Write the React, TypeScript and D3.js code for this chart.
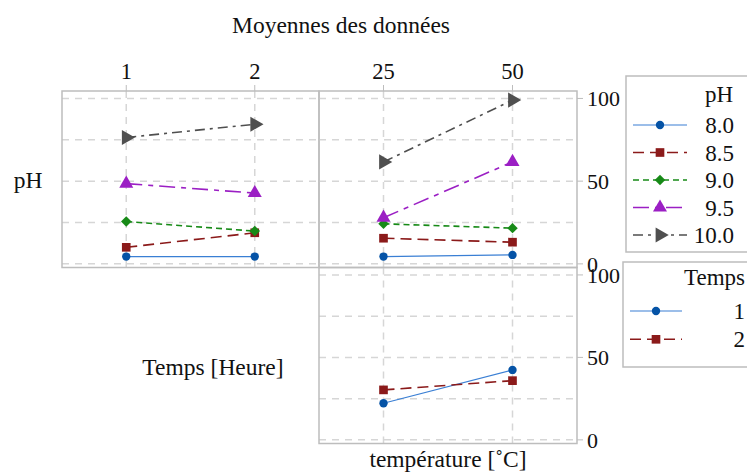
import * as d3 from "d3";

const W = 747;
const H = 476;

// factor levels
const phLevels = ["8.0", "8.5", "9.0", "9.5", "10.0"];
const tempsLevels = [1, 2];
const tempLevels = [25, 50];

// means
const phByTemps = [
  [4.4, 4.4],
  [10.0, 18.8],
  [25.6, 19.8],
  [48.5, 42.8],
  [76.4, 84.4],
];
const phByTemp = [
  [4.4, 5.4],
  [15.5, 13.1],
  [24.2, 21.6],
  [27.9, 61.6],
  [61.6, 99.0],
];
const tempsByTemp = [
  [22.2, 42.4],
  [30.3, 35.9],
];

const yLabels = [0, 50, 100];
const yGrid = [0, 25, 50, 75, 100];

const styles = [
  { line: "#3a7fd4", fill: "#0553a6", dash: "", sym: d3.symbolCircle, size: 55, rot: 0, w: 1.2 },
  { line: "#8b1a1a", fill: "#8b1a1a", dash: "11 6", sym: d3.symbolSquare, size: 75, rot: 0, w: 1.6 },
  { line: "#178a17", fill: "#178a17", dash: "6 4", sym: d3.symbolSquare, size: 55, rot: 45, w: 1.6 },
  { line: "#9b1fc4", fill: "#9b1fc4", dash: "16 6 5 6", sym: d3.symbolTriangle, size: 85, rot: 0, w: 1.6 },
  { line: "#4f4f4f", fill: "#4f4f4f", dash: "10 5 3 5", sym: d3.symbolTriangle, size: 100, rot: 90, w: 1.6 },
];

const FONT = "'Liberation Serif', 'Times New Roman', serif";
const GRID = "#d6d6d6";
const BORDER = "#bdbdbd";

type Panel = {
  key: string;
  x0: number;
  x1: number;
  y0: number;
  y1: number;
  levels: number[];
  series: number[][];
  top: boolean;
  right: boolean;
};

const panels: Panel[] = [
  { key: "tl", x0: 62, x1: 319, y0: 91, y1: 267.5, levels: tempsLevels, series: phByTemps, top: true, right: false },
  { key: "tr", x0: 319, x1: 577, y0: 91, y1: 267.5, levels: tempLevels, series: phByTemp, top: true, right: true },
  { key: "br", x0: 319, x1: 577, y0: 267.5, y1: 443.5, levels: tempLevels, series: tempsByTemp, top: false, right: true },
];

function Marker({ x, y, s }: { x: number; y: number; s: (typeof styles)[number] }) {
  const path = d3.symbol().type(s.sym).size(s.size)() || "";
  return <path d={path} fill={s.fill} transform={`translate(${x},${y}) rotate(${s.rot})`} />;
}

function PanelView({ p }: { p: Panel }) {
  const x = d3.scalePoint<number>().domain(p.levels).range([p.x0, p.x1]).padding(0.5);
  const y = d3.scaleLinear().domain([-2.2, 104.5]).range([p.y1, p.y0]);
  const line = d3
    .line<number>()
    .x((_, i) => x(p.levels[i]) as number)
    .y((v) => y(v));
  return (
    <g>
      {yGrid.map((t) => (
        <line key={"h" + t} x1={p.x0} x2={p.x1} y1={y(t)} y2={y(t)} stroke={GRID} strokeWidth={1.5} strokeDasharray="7 6" />
      ))}
      {p.levels.map((l) => (
        <line key={"v" + l} x1={x(l)} x2={x(l)} y1={p.y0} y2={p.y1} stroke={GRID} strokeWidth={1.5} strokeDasharray="7 6" />
      ))}
      <rect x={p.x0} y={p.y0} width={p.x1 - p.x0} height={p.y1 - p.y0} fill="none" stroke={BORDER} strokeWidth={1.5} />
      {p.top &&
        p.levels.map((l) => (
          <g key={"t" + l}>
            <line x1={x(l)} x2={x(l)} y1={p.y0 - 6} y2={p.y0} stroke={BORDER} strokeWidth={1} />
            <text x={x(l)} y={79} textAnchor="middle" fontSize={22.5}>
              {l}
            </text>
          </g>
        ))}
      {p.right &&
        yLabels.map((t) => (
          <g key={"r" + t}>
            <line x1={p.x1} x2={p.x1 + 6} y1={y(t)} y2={y(t)} stroke={BORDER} strokeWidth={1} />
            <text x={p.x1 + 10} y={y(t)} dy="0.35em" fontSize={22}>
              {t}
            </text>
          </g>
        ))}
      {p.series.map((vals, i) => (
        <path
          key={"l" + i}
          d={line(vals) || ""}
          fill="none"
          stroke={styles[i].line}
          strokeWidth={styles[i].w}
          strokeDasharray={styles[i].dash || undefined}
        />
      ))}
      {p.series.map((vals, i) =>
        vals.map((v, j) => <Marker key={`m${i}-${j}`} x={x(p.levels[j]) as number} y={y(v)} s={styles[i]} />)
      )}
    </g>
  );
}

function Legend({
  x,
  y,
  h,
  title,
  titleX,
  titleY,
  titleAnchor,
  labels,
  rowY,
  lineX0,
  lineX1,
  labelX,
}: {
  x: number;
  y: number;
  h: number;
  title: string;
  titleX: number;
  titleY: number;
  titleAnchor: "start" | "end";
  labels: string[];
  rowY: (i: number) => number;
  lineX0: number;
  lineX1: number;
  labelX: number;
}) {
  return (
    <g>
      <rect x={x} y={y} width={160} height={h} fill="#fff" stroke={BORDER} strokeWidth={1.5} />
      <text x={titleX} y={titleY} textAnchor={titleAnchor} fontSize={23}>
        {title}
      </text>
      {labels.map((lab, i) => (
        <g key={lab}>
          <line
            x1={lineX0}
            x2={lineX1}
            y1={rowY(i)}
            y2={rowY(i)}
            stroke={styles[i].line}
            strokeWidth={styles[i].w}
            strokeDasharray={styles[i].dash || undefined}
          />
          <Marker x={(lineX0 + lineX1) / 2} y={rowY(i)} s={styles[i]} />
          <text x={labelX} y={rowY(i)} dy="0.35em" textAnchor="end" fontSize={23}>
            {lab}
          </text>
        </g>
      ))}
    </g>
  );
}

export default function App() {
  return (
    <svg
      width={W}
      height={H}
      style={{ position: "absolute", left: 0, top: 0, background: "#fff" }}
      fontFamily={FONT}
      fill="#111"
    >
      <text x={341} y={33} textAnchor="middle" fontSize={23.5}>
        Moyennes des données
      </text>
      {panels.map((p) => (
        <PanelView key={p.key} p={p} />
      ))}
      <text x={28} y={180} dy="0.35em" textAnchor="middle" fontSize={23.5}>
        pH
      </text>
      <text x={213} y={375} textAnchor="middle" fontSize={23.5}>
        Temps [Heure]
      </text>
      <text x={448} y={467} textAnchor="middle" fontSize={23.5}>
        température [˚C]
      </text>
      <Legend
        x={626}
        y={76}
        h={176}
        title="pH"
        titleX={733}
        titleY={102}
        titleAnchor="end"
        labels={phLevels}
        rowY={(i) => 125 + i * 27.5}
        lineX0={633}
        lineX1={687}
        labelX={734}
      />
      <Legend
        x={623}
        y={262}
        h={105}
        title="Temps"
        titleX={684}
        titleY={285}
        titleAnchor="start"
        labels={tempsLevels.map(String)}
        rowY={(i) => 311 + i * 28.3}
        lineX0={630}
        lineX1={682}
        labelX={745}
      />
    </svg>
  );
}
